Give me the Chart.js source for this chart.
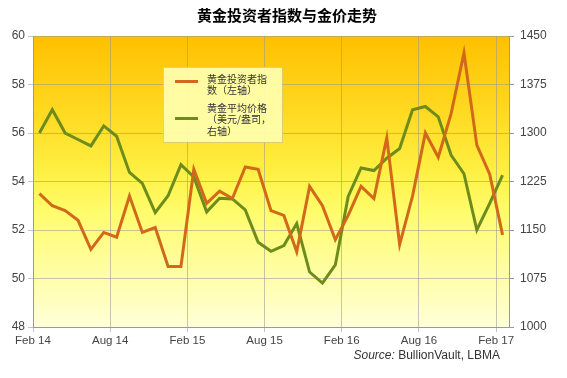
<!DOCTYPE html>
<html>
<head>
<meta charset="utf-8">
<script src="https://cdn.jsdelivr.net/npm/chart.js@4"></script>
<style>
html,body{margin:0;padding:0;background:#fff;}
#wrap{width:567px;height:378px;position:relative;}
</style>
</head>
<body>
<div id="wrap"><canvas id="c" width="567" height="378"></canvas></div>
<script>
const months = ["Feb 14","Mar 14","Apr 14","May 14","Jun 14","Jul 14","Aug 14","Sep 14","Oct 14","Nov 14","Dec 14","Jan 15",
  "Feb 15","Mar 15","Apr 15","May 15","Jun 15","Jul 15","Aug 15","Sep 15","Oct 15","Nov 15","Dec 15","Jan 16",
  "Feb 16","Mar 16","Apr 16","May 16","Jun 16","Jul 16","Aug 16","Sep 16","Oct 16","Nov 16","Dec 16","Jan 17","Feb 17"];
const tickLabels = ["Feb 14","Aug 14","Feb 15","Aug 15","Feb 16","Aug 16","Feb 17"];
const investorIndex = [53.5,53.0,52.8,52.4,51.2,51.9,51.7,53.4,51.9,52.1,50.5,50.5,
  54.5,53.1,53.6,53.3,54.6,54.5,52.8,52.6,51.1,53.8,53.0,51.6,
  52.6,53.8,53.3,55.8,51.4,53.4,56.0,55.0,56.8,59.3,55.5,54.3,51.8];
const goldPrice = [1300,1336,1300,1290,1280,1311,1295,1239,1222,1177,1203,1251,
  1232,1178,1199,1198,1181,1131,1117,1126,1160,1085,1068,1096,
  1202,1246,1242,1261,1276,1336,1341,1325,1266,1237,1150,1191,1235];
const seriesNames = ["黄金投资者指数（左轴）","黄金平均价格（美元/盎司，右轴）"];
const legendLines = [["黄金投资者指","数（左轴）"],["黄金平均价格","（美元/盎司，","右轴）"]];
const titleText = "黄金投资者指数与金价走势";

const orange = "#D2691A";
const green = "#6E8C1C";
const FONT = "'Liberation Sans', Arial, sans-serif";
const CJK = "'Noto Sans CJK SC', sans-serif";

const toPoints = arr => arr.map((v,i)=>({x:i+0.5,y:v}));

const bgPlugin = {
  id:'bg',
  beforeDraw(chart){
    const {ctx, chartArea:a} = chart;
    const g = ctx.createLinearGradient(0,a.top,0,a.bottom);
    g.addColorStop(0,'#FFC000');
    g.addColorStop(0.25,'#FFD820');
    g.addColorStop(0.45,'#FFEE40');
    g.addColorStop(0.6,'#FFFC6A');
    g.addColorStop(1,'#FFFFD8');
    ctx.save();
    ctx.fillStyle = g;
    ctx.fillRect(a.left,a.top,a.right-a.left,a.bottom-a.top);
    ctx.restore();
  },
  afterDraw(chart){
    const {ctx} = chart;
    ctx.save();
    ctx.fillStyle = '#000';
    ctx.font = "bold 15px " + CJK;
    ctx.textAlign = 'center';
    ctx.textBaseline = 'middle';
    ctx.fillText(titleText, 287, 15);
    ctx.textAlign = 'right';
    ctx.fillStyle = '#333';
    ctx.font = "12px " + FONT;
    const rest = " BullionVault, LBMA";
    const wRest = ctx.measureText(rest).width;
    ctx.fillText(rest, 500, 356);
    ctx.font = "italic 12px " + FONT;
    ctx.fillText("Source:", 500 - wRest, 356);
    const lx=163, ly=67, lw=119, lh=75;
    ctx.fillStyle = 'rgba(255,255,175,0.92)';
    ctx.fillRect(lx,ly,lw,lh);
    ctx.strokeStyle = 'rgba(210,200,130,0.8)';
    ctx.lineWidth = 1;
    ctx.strokeRect(lx+0.5,ly+0.5,lw,lh);
    const ds = chart.data.datasets;
    const sampleY = [81.5,118.5];
    const textY = [[79,90.5],[108,119.5,131]];
    ds.forEach((d,i)=>{
      ctx.strokeStyle = d.borderColor;
      ctx.lineWidth = 3;
      ctx.beginPath();
      ctx.moveTo(175,sampleY[i]);
      ctx.lineTo(198,sampleY[i]);
      ctx.stroke();
      ctx.fillStyle = '#333';
      ctx.font = "10px " + CJK;
      ctx.textAlign = 'left';
      ctx.textBaseline = 'middle';
      legendLines[i].forEach((t,j)=>ctx.fillText(t,207,textY[i][j]));
    });
    ctx.restore();
  }
};

new Chart(document.getElementById('c'), {
  type:'line',
  data:{
    datasets:[
      {label:seriesNames[0], data:toPoints(investorIndex), yAxisID:'yL', borderColor:orange, backgroundColor:orange, borderWidth:3, pointRadius:0, tension:0},
      {label:seriesNames[1], data:toPoints(goldPrice), yAxisID:'yR', borderColor:green, backgroundColor:green, borderWidth:3, pointRadius:0, tension:0}
    ]
  },
  options:{
    responsive:false,
    animation:false,
    layout:{padding:{top:36,left:0,right:0,bottom:0}},
    plugins:{legend:{display:false}, title:{display:false}, tooltip:{enabled:false}},
    scales:{
      x:{
        type:'linear', min:0, max:37,
        grid:{color:'rgba(150,150,150,0.55)', tickLength:5, drawTicks:true},
        border:{color:'#999'},
        ticks:{stepSize:6, includeBounds:false, autoSkip:false, maxRotation:0, color:'#444', font:{family:FONT,size:11.5}, padding:2,
          callback:(v)=> (v%6===0 && v/6 < tickLabels.length) ? tickLabels[v/6] : ''},
        afterFit(s){ s.height = 51; }
      },
      yL:{
        position:'left', min:48, max:60,
        grid:{color:'rgba(150,150,150,0.55)', tickLength:5},
        border:{color:'#999'},
        ticks:{stepSize:2, color:'#444', font:{family:FONT,size:12}, padding:3},
        afterFit(s){ s.width = 33; }
      },
      yR:{
        position:'right', min:1000, max:1450,
        grid:{drawOnChartArea:false, tickLength:5, color:'#999'},
        border:{color:'#999'},
        ticks:{stepSize:75, color:'#444', font:{family:FONT,size:12}, padding:6,
          callback:(v)=> String(v)},
        afterFit(s){ s.width = 58; }
      }
    }
  },
  plugins:[bgPlugin]
});
</script>
</body>
</html>
